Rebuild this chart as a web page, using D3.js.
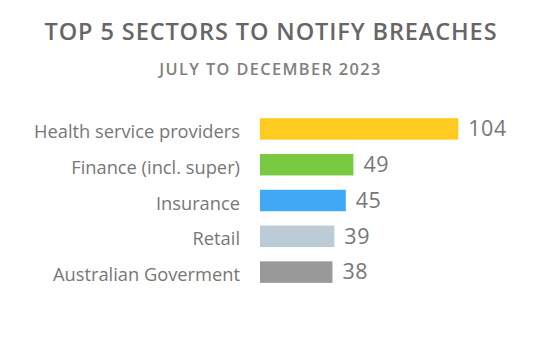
<!DOCTYPE html>
<html><head><meta charset="utf-8">
<script src="https://cdn.jsdelivr.net/npm/d3@7"></script>
<style>body{margin:0;background:#fff}</style>
</head><body>
<svg id="chart" width="540" height="360"></svg>
<script>
const categories = ["Health service providers","Finance (incl. super)","Insurance","Retail","Australian Goverment"];
const values = [104,49,45,39,38];
const colors = ["#FFCB21","#7AC943","#3FA9F5","#BCCCD6","#999999"];
const title = "TOP 5 SECTORS TO NOTIFY BREACHES";
const subtitle = "JULY TO DECEMBER 2023";

const svg = d3.select("#chart");
const font = "'Open Sans', sans-serif";

svg.append("text").attr("x",271).attr("y",39.5).attr("text-anchor","middle")
  .attr("font-family",font).attr("font-size",23.5).attr("font-weight",600)
  .attr("letter-spacing",0.9).attr("fill","#666").text(title);
svg.append("text").attr("x",270.5).attr("y",75).attr("text-anchor","middle")
  .attr("font-family",font).attr("font-size",16.3).attr("font-weight",600)
  .attr("letter-spacing",1.4).attr("fill","#808080").text(subtitle);

const x = d3.scaleLinear().domain([0,104]).range([260,458.3]);
const y = d3.scaleBand().domain(categories).range([111,290]).paddingInner(0.4).paddingOuter(0.2);

const g = svg.append("g");
g.selectAll("rect").data(categories).join("rect")
  .attr("x",x(0)).attr("y",d=>y(d)).attr("width",(d,i)=>x(values[i])-x(0))
  .attr("height",y.bandwidth()).attr("fill",(d,i)=>colors[i]);

g.selectAll("text.val").data(categories).join("text").attr("class","val")
  .attr("x",(d,i)=>x(values[i])+10).attr("y",d=>y(d)+y.bandwidth()/2)
  .attr("dy","0.34em").attr("font-family",font).attr("font-size",21.5)
  .attr("letter-spacing",0.5).attr("fill","#777").text((d,i)=>values[i]);

const yAxis = d3.axisLeft(y).tickSize(0).tickPadding(0);
const ax = svg.append("g").attr("transform","translate(240,0)").call(yAxis);
ax.select(".domain").remove();
ax.selectAll("text").attr("font-family",font).attr("font-size",18.3).attr("fill","#777").attr("dy","0.5em");
</script>
</body></html>
